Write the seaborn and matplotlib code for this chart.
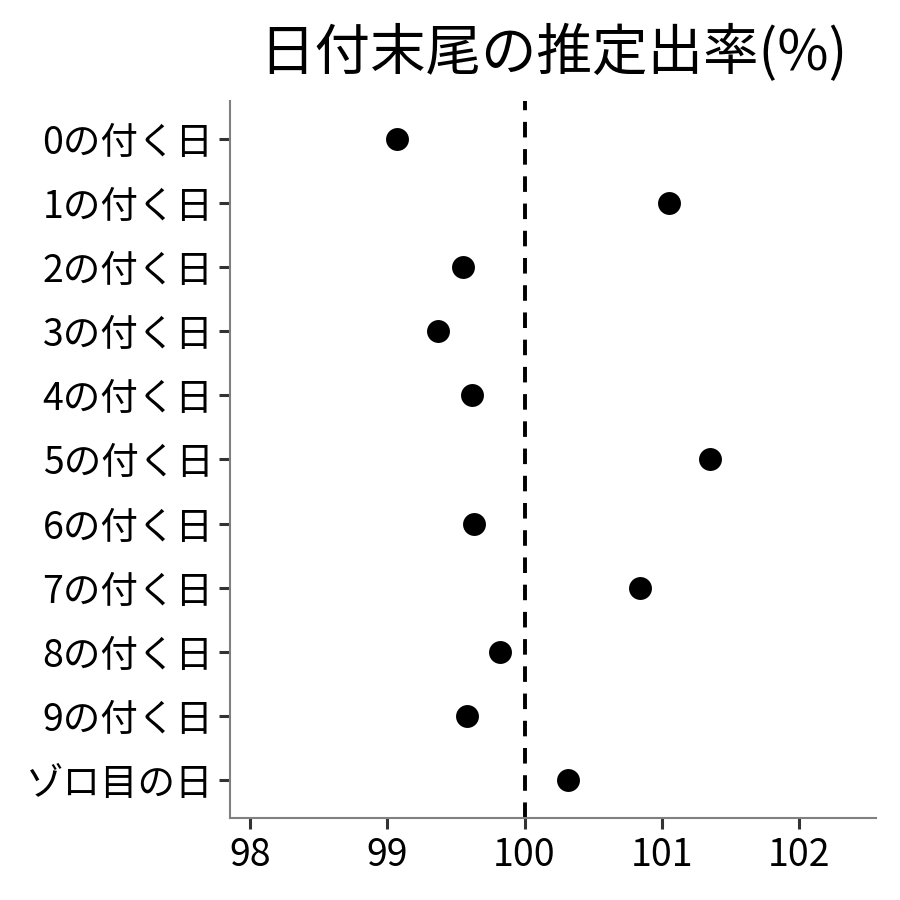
import matplotlib
matplotlib.use('Agg')
import matplotlib.pyplot as plt
import numpy as np
import pandas as pd
import seaborn as sns

# data
labels = ['0の付く日', '1の付く日', '2の付く日', '3の付く日', '4の付く日',
          '5の付く日', '6の付く日', '7の付く日', '8の付く日', '9の付く日',
          'ゾロ目の日']
rates = [99.07, 101.05, 99.55, 99.37, 99.62, 101.35, 99.63, 100.84, 99.82, 99.58, 100.32]
x_ticks = [98, 99, 100, 101, 102]

df = pd.DataFrame({'label': labels, 'rate': rates})

sns.set_style('white')
plt.rcParams['font.family'] = ['Noto Sans CJK JP', 'DejaVu Sans']

fig = plt.figure(figsize=(9, 9), dpi=100)
ax = fig.add_axes([0.2556, 0.0911, 0.7177, 0.7967])

ax.axvline(100, color='black', linewidth=2.8, linestyle=(0, (4, 3)), zorder=1)
sns.stripplot(data=df, x='rate', y='label', order=labels, orient='h',
              jitter=False, color='black', size=16.5, ax=ax, zorder=2)

ax.set_xlim(97.855, 102.56)
ax.set_ylim(len(labels) - 0.4, -0.6)
ax.set_xticks(x_ticks)
ax.set_xticklabels([str(t) for t in x_ticks])
ax.set_xlabel('')
ax.set_ylabel('')

for side in ['top', 'right']:
    ax.spines[side].set_visible(False)
for side in ['left', 'bottom']:
    ax.spines[side].set_color('#808080')
    ax.spines[side].set_linewidth(1.5)

ax.tick_params(axis='both', which='major', bottom=True, left=True,
               length=8, width=2.2, color='#333333',
               labelsize=27, labelcolor='black', pad=4)
ax.tick_params(axis='x', pad=5)

ax.set_title('日付末尾の推定出率(%)', fontsize=40, pad=22, color='black')

fig.savefig('out.png', dpi=100)
